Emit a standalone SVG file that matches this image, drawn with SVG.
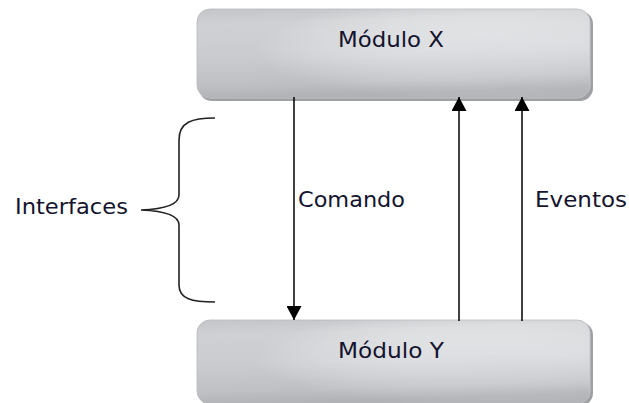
<svg xmlns="http://www.w3.org/2000/svg" width="629" height="403" viewBox="0 0 629 403">
  <defs>
    <linearGradient id="boxFill" x1="0" y1="0" x2="0.15" y2="1">
      <stop offset="0" stop-color="#d3d4d7"/>
      <stop offset="0.18" stop-color="#e4e5e7"/>
      <stop offset="0.55" stop-color="#dcdde0"/>
      <stop offset="0.85" stop-color="#c9cbce"/>
      <stop offset="1" stop-color="#b4b6ba"/>
    </linearGradient>
    <radialGradient id="boxSheen" cx="0.75" cy="0.45" r="0.6">
      <stop offset="0" stop-color="#ffffff" stop-opacity="0"/>
      <stop offset="1" stop-color="#a8aaae" stop-opacity="0.35"/>
    </radialGradient>
    <marker id="head" viewBox="0 0 14 15" refX="14" refY="7.5" markerWidth="14" markerHeight="15" markerUnits="userSpaceOnUse" orient="auto">
      <path d="M0,0 L14,7.5 L0,15 Z" fill="#000"/>
    </marker>
  </defs>
  <style>
    .shadow { fill: #9ea0a4; }
    .box { fill: url(#boxFill); stroke: #c4c6c9; stroke-width: 1; }
    .sheen { fill: url(#boxSheen); }
    .label { font-family: "DejaVu Sans", Verdana, sans-serif; font-size: 22px; fill: #14142e; }
    .wire { stroke: #000; stroke-width: 1.5; fill: none; }
    .brace { stroke: #222; stroke-width: 1.6; fill: none; }
  </style>

  <rect width="629" height="403" fill="#ffffff"/>

  <!-- upper module -->
  <g id="modulo-x">
    <rect class="shadow" x="199" y="11" width="394" height="90" rx="13"/>
    <rect class="box" x="197" y="9" width="393" height="89" rx="13"/>
    <rect class="sheen" x="197" y="9" width="393" height="89" rx="13"/>
    <text class="label" x="391" y="47" text-anchor="middle" textLength="106" lengthAdjust="spacingAndGlyphs">Módulo X</text>
  </g>

  <!-- lower module -->
  <g id="modulo-y">
    <rect class="shadow" x="199" y="322" width="394" height="84" rx="13"/>
    <rect class="box" x="197" y="320" width="393" height="84" rx="13"/>
    <rect class="sheen" x="197" y="320" width="393" height="84" rx="13"/>
    <text class="label" x="391" y="358" text-anchor="middle" textLength="106" lengthAdjust="spacingAndGlyphs">Módulo Y</text>
  </g>

  <!-- interface bracket and its label -->
  <g id="interfaces">
    <path class="brace" d="M215,118 C192,118 179,122 179,140 L179,195 C179,204 166,209 141,210 C166,211 179,216 179,225 L179,285 C179,299 192,302 215,302"/>
    <text class="label" x="15" y="214" textLength="113" lengthAdjust="spacingAndGlyphs">Interfaces</text>
  </g>

  <!-- connectors between the modules -->
  <g id="connectors">
    <line class="wire" x1="294" y1="97" x2="294" y2="320" marker-end="url(#head)"/>
    <line class="wire" x1="459" y1="321" x2="459" y2="97" marker-end="url(#head)"/>
    <line class="wire" x1="522" y1="321" x2="522" y2="97" marker-end="url(#head)"/>
    <text class="label" x="298" y="207" textLength="107" lengthAdjust="spacingAndGlyphs">Comando</text>
    <text class="label" x="535" y="207" textLength="92" lengthAdjust="spacingAndGlyphs">Eventos</text>
  </g>
</svg>
